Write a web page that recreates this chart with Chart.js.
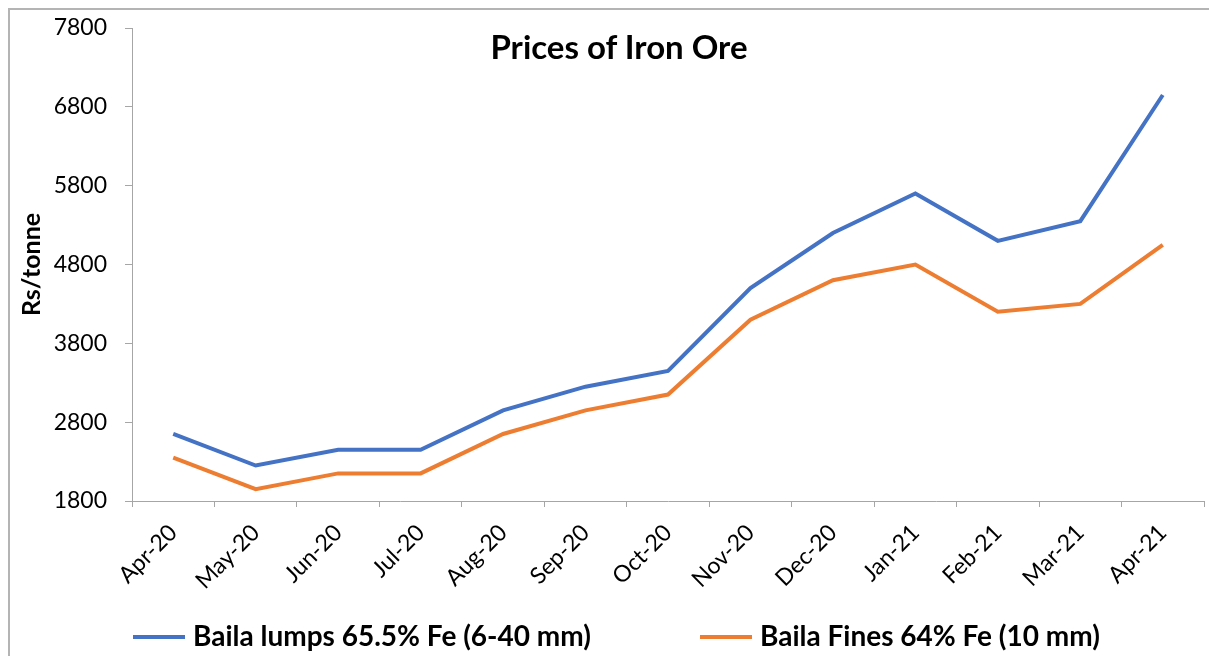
<!DOCTYPE html>
<html>
<head>
<meta charset="utf-8">
<script src="https://cdn.jsdelivr.net/npm/chart.js@4.4.1/dist/chart.umd.min.js"></script>
<style>
  body { margin: 0; background: #fff; font-family: Lato, sans-serif; }
  #wrap { position: relative; width: 1209px; height: 656px; overflow: hidden; }
  #frame { position: absolute; left: 8px; top: 8px; width: 1400px; height: 900px; border: 2px solid #b4b4b4; }
  #chart { position: absolute; left: 0; top: 0; }
  #title { position: absolute; left: 0; width: 1238px; top: 26px; text-align: center; font: bold 33px Lato; color: #000; }
  .leg { position: absolute; top: 618px; font: bold 28px Lato; color: #000; white-space: nowrap; line-height: 34px; }
  .leg span { display: inline-block; width: 52px; height: 4px; vertical-align: middle; margin-right: 8px; position: relative; top: -2px; }
</style>
</head>
<body>
<div id="wrap">
  <div id="frame"></div>
  <canvas id="chart" width="1209" height="656"></canvas>
  <div id="title">Prices of Iron Ore</div>
  <div class="leg" style="left:133px"><span style="background:#4472C4"></span>Baila lumps 65.5% Fe (6-40 mm)</div>
  <div class="leg" style="left:700px"><span style="background:#ED7D31"></span>Baila Fines 64% Fe (10 mm)</div>
</div>
<script>
// Данные графика
const months = ["Apr-20", "May-20", "Jun-20", "Jul-20", "Aug-20", "Sep-20", "Oct-20",
  "Nov-20", "Dec-20", "Jan-21", "Feb-21", "Mar-21", "Apr-21"];
const lumps = [2650, 2250, 2450, 2450, 2950, 3250, 3450, 4500, 5200, 5700, 5100, 5350, 6950];
const fines = [2350, 1950, 2150, 2150, 2650, 2950, 3150, 4100, 4600, 4800, 4200, 4300, 5050];
const yTicks = [1800, 2800, 3800, 4800, 5800, 6800, 7800];

const axisColor = "#a6a6a6";

const ctx = document.getElementById("chart").getContext("2d");
const chart = new Chart(ctx, {
  type: "line",
  data: {
    labels: months,
    datasets: [
      {
        label: "Baila lumps 65.5% Fe (6-40 mm)",
        data: lumps,
        borderColor: "#4472C4",
        backgroundColor: "#4472C4",
        borderWidth: 4,
        pointRadius: 0,
        tension: 0,
      },
      {
        label: "Baila Fines 64% Fe (10 mm)",
        data: fines,
        borderColor: "#ED7D31",
        backgroundColor: "#ED7D31",
        borderWidth: 4,
        pointRadius: 0,
        tension: 0,
      },
    ],
  },
  options: {
    responsive: false,
    animation: false,
    layout: { padding: { left: 0, top: 28, right: 5, bottom: 55 } },
    plugins: {
      legend: { display: false },
      tooltip: { enabled: false },
    },
    scales: {
      x: {
        offset: true,
        grid: { offset: true, drawOnChartArea: false, color: axisColor, tickLength: 6 },
        border: { color: axisColor, width: 1 },
        ticks: {
          minRotation: 45,
          maxRotation: 45,
          padding: 12,
          color: "#000",
          font: { family: "Lato", size: 23 },
        },
        afterFit: (scale) => { scale.height = 100; },
      },
      y: {
        min: 1800,
        max: 7800,
        afterBuildTicks: (scale) => { scale.ticks = yTicks.map((v) => ({ value: v })); },
        grid: { drawOnChartArea: false, color: axisColor, tickLength: 7 },
        border: { color: axisColor, width: 1 },
        ticks: {
          padding: 18,
          color: "#000",
          font: { family: "Lato", size: 23 },
          callback: (v) => String(v),
        },
        title: {
          display: true,
          text: "Rs/tonne",
          color: "#000",
          font: { family: "Lato", size: 25, weight: "bold" },
          padding: { top: 17, bottom: 0 },
        },
        afterFit: (scale) => {
          scale.width = 132;
          scale.paddingTop = 0; // чтобы верх графика был ровно на 28px
          scale.paddingBottom = 0;
        },
      },
    },
  },
});
</script>
</body>
</html>
